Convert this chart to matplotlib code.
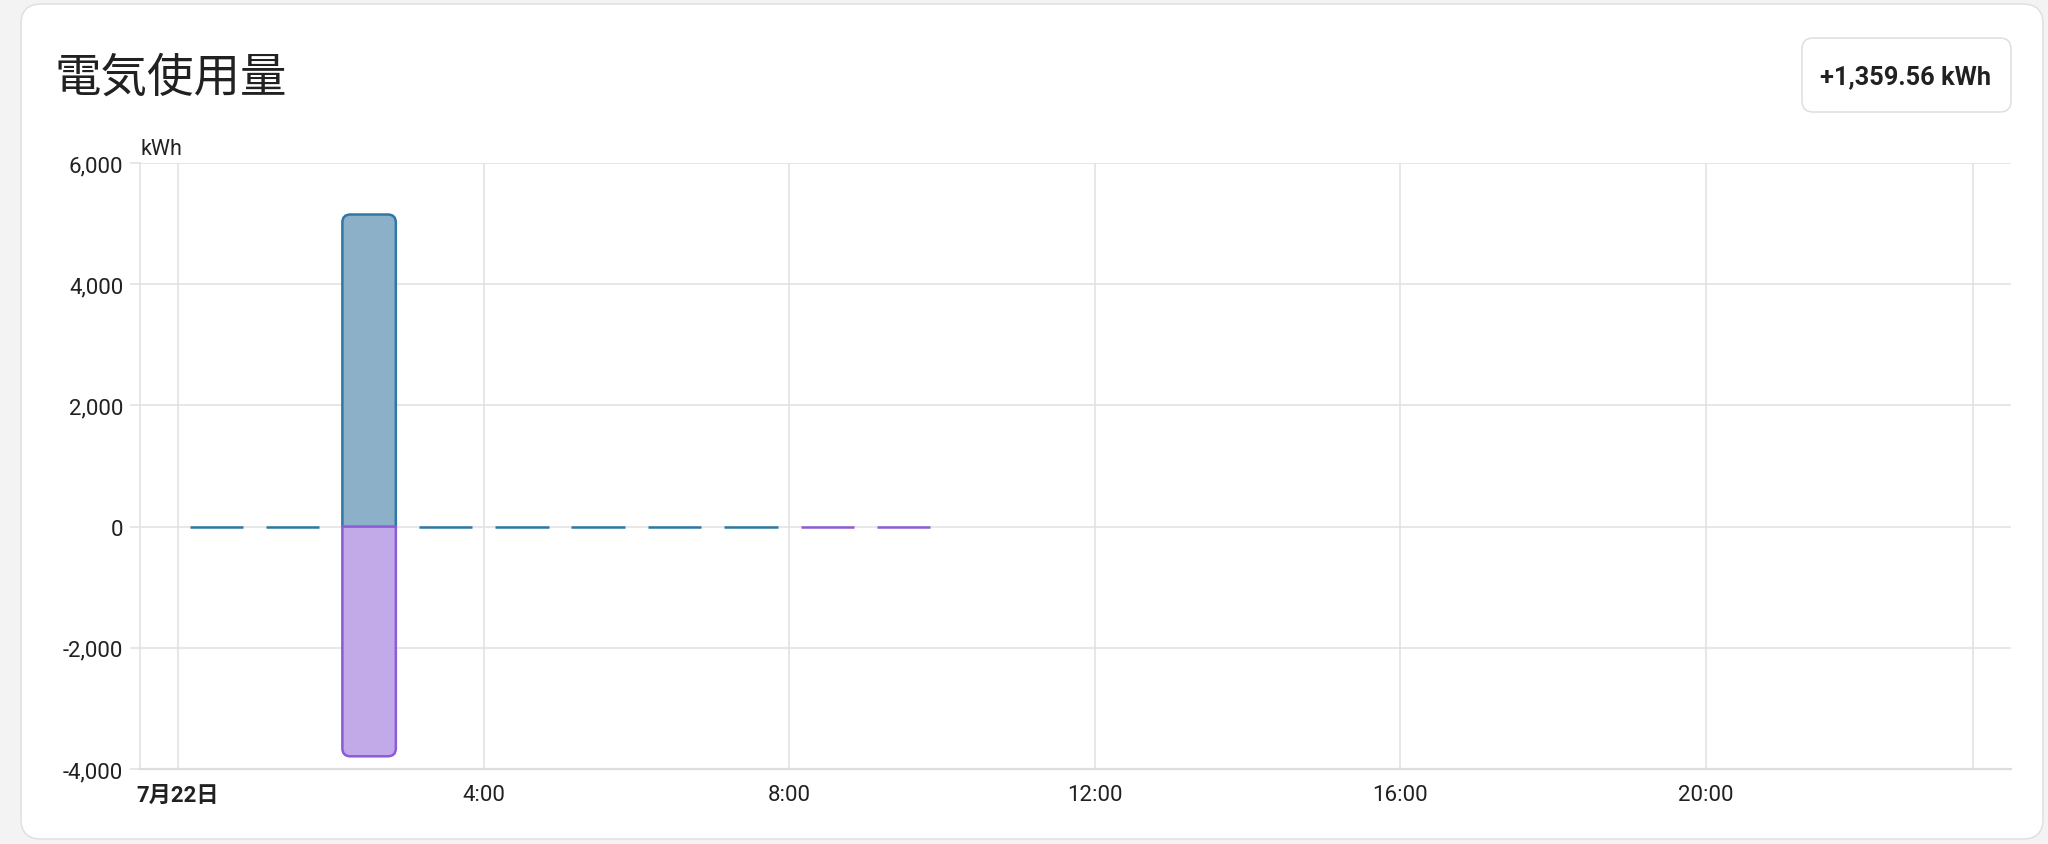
import numpy as np
import matplotlib
matplotlib.use("Agg")
import matplotlib.pyplot as plt
from matplotlib.patches import FancyBboxPatch, PathPatch
from matplotlib.path import Path
from matplotlib.ticker import StrMethodFormatter

plt.rcParams['font.family'] = ['Roboto', 'Noto Sans CJK JP', 'DejaVu Sans']
plt.rcParams['axes.unicode_minus'] = False

# data
title = '電気使用量'
total_label = '+1,359.56 kWh'
unit = 'kWh'

cons_hours = [0, 1, 2, 3, 4, 5, 6, 7]
cons_values = [1.2, 0.9, 5150.0, 1.1, 0.8, 1.0, 1.3, 0.7]
ret_hours = [2, 8, 9]
ret_values = [-3790.44, -0.6, -0.4]

tick_pos = [0, 4, 8, 12, 16, 20]
tick_labels = ['7月22日', '4:00', '8:00', '12:00', '16:00', '20:00']

blue_edge, blue_fill = '#2f78a6', '#8bb0c7'
purple_edge, purple_fill = '#8c5bd8', '#c2aae8'
grid_col = '#e0e0e0'
text_col = '#212121'

W, H = 2048, 845
fig = plt.figure(figsize=(W / 100, H / 100), dpi=100)
fig.patch.set_facecolor('#f3f3f3')

# background axes in pixel units for the card
bg = fig.add_axes([0, 0, 1, 1])
bg.set_xlim(0, W)
bg.set_ylim(H, 0)
bg.axis('off')
bg.add_patch(FancyBboxPatch((21, 5), 2022, 835, boxstyle='round,pad=0,rounding_size=20',
                            fc='white', ec='#e0e0e0', lw=1.1))
bg.add_patch(FancyBboxPatch((1802, 39), 209, 74, boxstyle='round,pad=0,rounding_size=11',
                            fc='white', ec='#dedede', lw=1.1))
bg.text(1906, 77, total_label, fontsize=18.3, fontweight='bold', color=text_col,
        ha='center', va='center', family='Roboto')
bg.text(54, 78, title, fontsize=33.5, color=text_col, ha='left', va='center',
        family='Noto Sans CJK JP')
bg.text(141, 155, unit, fontsize=15.5, color=text_col, ha='left', va='baseline')

# chart axes
left, right, top, bottom = 140, 2011, 164, 770
ax = fig.add_axes([left / W, 1 - bottom / H, (right - left) / W, (bottom - top) / H])
ax.patch.set_alpha(0)
ax.set_xlim(-0.5, 24)
ax.set_ylim(-4000, 6000)
ax.set_yticks([-4000, -2000, 0, 2000, 4000, 6000])
ax.yaxis.set_major_formatter(StrMethodFormatter('{x:,.0f}'))
ax.set_xticks(tick_pos)
ax.set_xticklabels(tick_labels)
ax.set_xticks([23.5], minor=True)
ax.get_xticklabels()[0].set_fontweight('bold')

ax.grid(True, which='both', color=grid_col, lw=1.1)
ax.set_axisbelow(True)
for s in ['top', 'right']:
    ax.spines[s].set_visible(False)
ax.spines['left'].set_color(grid_col)
ax.spines['left'].set_linewidth(1.1)
ax.spines['bottom'].set_color('#dcdcdc')
ax.spines['bottom'].set_linewidth(1.6)
ax.tick_params(axis='y', length=7, width=1.1, color=grid_col, pad=5, labelsize=16,
               labelcolor=text_col)
ax.tick_params(axis='x', which='both', length=0, pad=11, labelsize=16, labelcolor=text_col)

bar_w = 0.7
bars_c = ax.bar(np.array(cons_hours) + 0.5, cons_values, width=bar_w, color=blue_fill,
                edgecolor=blue_edge, linewidth=1.8, zorder=3)
bars_r = ax.bar(np.array(ret_hours) + 0.5, ret_values, width=bar_w, color=purple_fill,
                edgecolor=purple_edge, linewidth=1.8, zorder=3)

# rounded outer corners (about 8 px)
px_x = (right - left) / 24.5
px_y = (bottom - top) / 10000
rx, ry = 8 / px_x, 8 / px_y


def round_bar(rect, closed):
    x0 = rect.get_x()
    x1 = x0 + rect.get_width()
    h = rect.get_height()
    r = ry * np.sign(h)
    verts = [(x0, 0), (x0, h - r), (x0, h), (x0 + rx, h), (x1 - rx, h), (x1, h),
             (x1, h - r), (x1, 0)]
    codes = [Path.MOVETO, Path.LINETO, Path.CURVE3, Path.CURVE3, Path.LINETO,
             Path.CURVE3, Path.CURVE3, Path.LINETO]
    if closed:
        verts.append((x0, 0))
        codes.append(Path.CLOSEPOLY)
    p = PathPatch(Path(verts, codes), fc=rect.get_facecolor(), ec=rect.get_edgecolor(),
                  lw=rect.get_linewidth(), zorder=rect.get_zorder())
    rect.set_visible(False)
    ax.add_patch(p)


for rect in bars_c:
    if abs(rect.get_height()) > 2 * ry:
        round_bar(rect, False)
for rect in bars_r:
    if abs(rect.get_height()) > 2 * ry:
        round_bar(rect, True)

fig.savefig('out.png', dpi=100, facecolor=fig.get_facecolor())
